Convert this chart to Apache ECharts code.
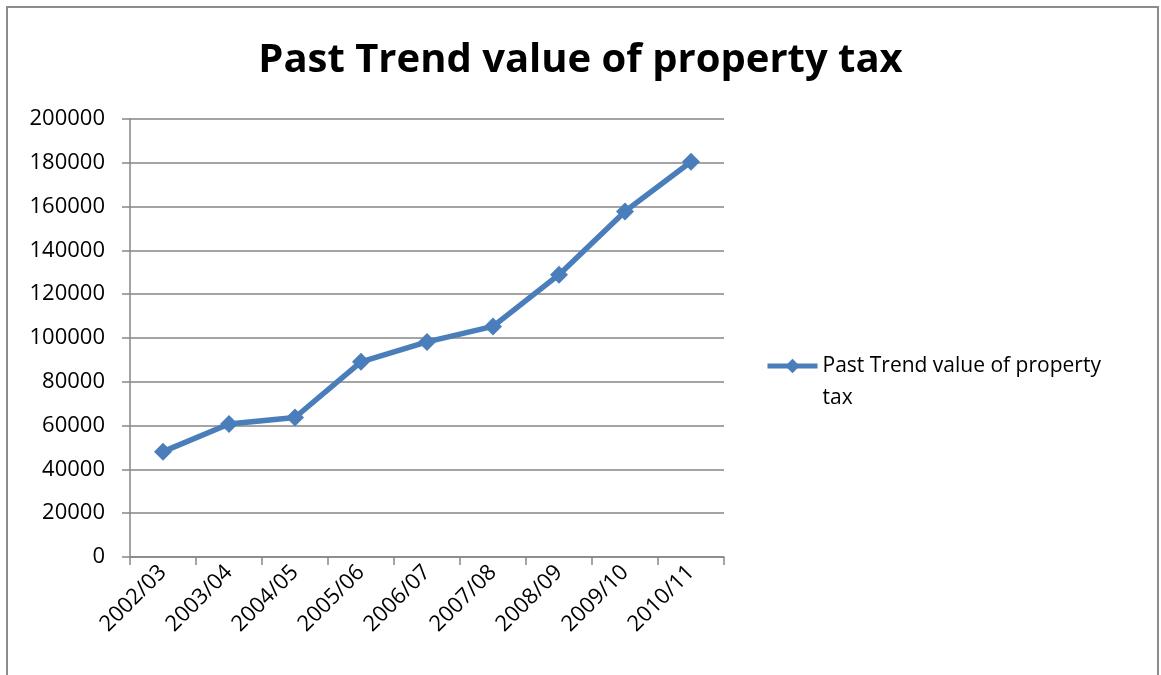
<!DOCTYPE html>
<html>
<head>
<meta charset="utf-8">
<script src="https://cdn.jsdelivr.net/npm/echarts@6/dist/echarts.min.js"></script>
<style>
  html, body { margin: 0; padding: 0; background: #ffffff; }
  #chart { width: 1161px; height: 675px; }
</style>
</head>
<body>
<div id="chart"></div>
<script>
// Fiscal years and property tax collected in each
const years = ['2002/03', '2003/04', '2004/05', '2005/06', '2006/07', '2007/08', '2008/09', '2009/10', '2010/11'];
const propertyTax = [48100, 60700, 63700, 89100, 98200, 105300, 128900, 157800, 180500];
const seriesName = 'Past Trend value of property tax';

const FONT = 'Open Sans, Lato, sans-serif';
const BLUE = '#4a7ebb';
const GRID = '#868686';

const chart = echarts.init(document.getElementById('chart'), null, { renderer: 'canvas' });

chart.setOption({
  backgroundColor: '#ffffff',
  animation: false,
  title: {
    text: 'Past Trend value of property tax',
    left: 'center',
    top: 36,
    textStyle: { fontFamily: FONT, fontWeight: 'bold', fontSize: 40, color: '#000000' }
  },
  graphic: [{
    type: 'rect',
    shape: { x: 7, y: 7, width: 1151, height: 700 },
    style: { fill: 'none', stroke: '#8c8c8c', lineWidth: 2 },
    silent: true
  }],
  legend: {
    left: 760,
    top: 313,
    orient: 'vertical',
    itemWidth: 50,
    itemHeight: 18,
    itemGap: 5,
    lineStyle: { width: 5 },
    textStyle: {
      fontFamily: FONT,
      fontSize: 21,
      color: '#000000',
      lineHeight: 32
    },
    // leading blank line keeps the first text line level with the symbol
    formatter: name => '\n' + name.replace(' tax', '\ntax'),
    data: [seriesName]
  },
  grid: { left: 130, right: 437, top: 119, bottom: 118, containLabel: false },
  xAxis: {
    type: 'category',
    data: years,
    boundaryGap: true,
    axisLine: { lineStyle: { color: GRID, width: 1.5 } },
    axisTick: { show: true, length: 8, alignWithLabel: false, lineStyle: { color: GRID, width: 1.5 } },
    axisLabel: {
      rotate: 45,
      fontFamily: FONT,
      fontSize: 22,
      color: '#000000',
      margin: 12,
      interval: 0
    }
  },
  yAxis: {
    type: 'value',
    min: 0,
    max: 200000,
    interval: 20000,
    axisLine: { show: true, lineStyle: { color: GRID, width: 1.5 } },
    axisTick: { show: true, length: 8, lineStyle: { color: GRID, width: 1.5 } },
    axisLabel: {
      fontFamily: FONT,
      fontSize: 22,
      color: '#000000',
      margin: 25,
      formatter: v => String(v)
    },
    splitLine: { show: true, lineStyle: { color: GRID, width: 1.5 } }
  },
  series: [{
    name: seriesName,
    type: 'line',
    data: propertyTax,
    symbol: 'diamond',
    symbolSize: 18,
    lineStyle: { color: BLUE, width: 5.5 },
    itemStyle: { color: BLUE },
    z: 5
  }]
});
</script>
</body>
</html>
